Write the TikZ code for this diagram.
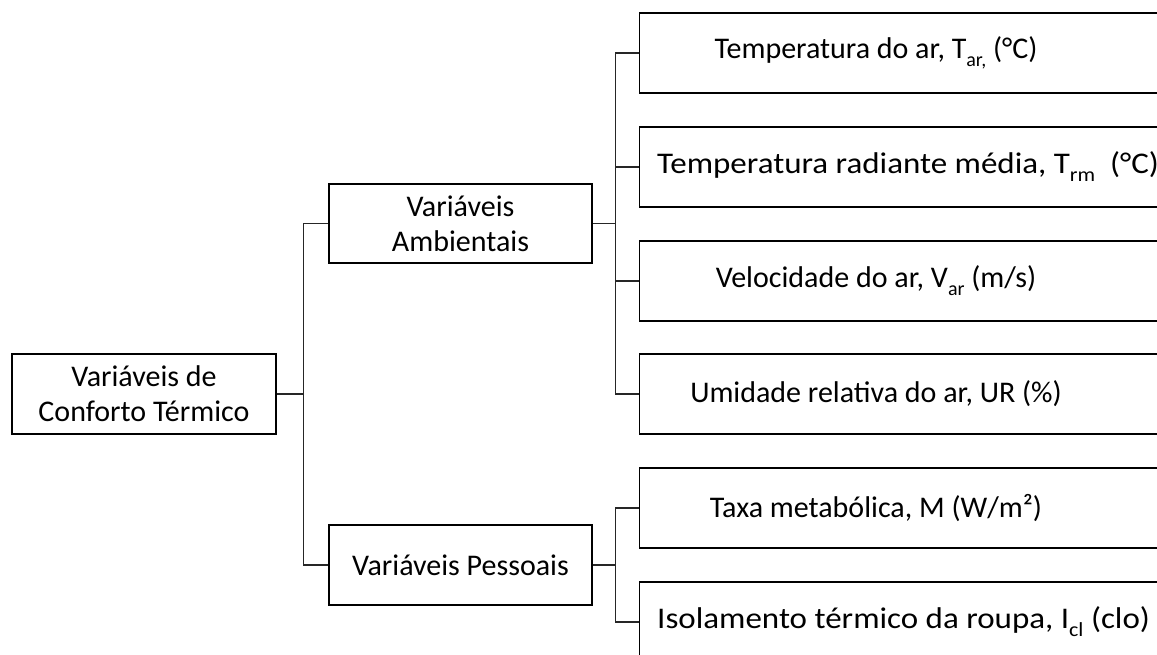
\documentclass[tikz,border=0pt]{standalone}
\usepackage{fontspec}
\setmainfont{Carlito}
\newcommand{\mysub}[1]{\raisebox{-8pt}{\fontsize{20}{20}\selectfont #1}}
\begin{document}
\begin{tikzpicture}[x=1pt,y=-1pt,
  box/.style={draw=black,line width=1.2pt,rectangle,inner sep=0pt},
  txt/.style={inner sep=0pt,font=\fontsize{30}{35}\selectfont,align=center},
  conn/.style={draw=black!85,line width=1.2pt}]
\useasboundingbox (0,0) rectangle (1157,655);
\clip (0,0) rectangle (1157,655);
% root
\node[box,minimum width=264pt,minimum height=80pt] (root) at (144,394) {};
\node[txt] (troot) at (144,394) {Variáveis de\\Conforto Térmico};
% level 2
\node[box,minimum width=263pt,minimum height=79pt] (amb) at (460.5,223.5) {};
\node[txt] (tamb) at (460.5,223.5) {Variáveis\\Ambientais};
\node[box,minimum width=263pt,minimum height=80pt] (pes) at (460.5,565) {};
\node[txt] (tpes) at (460.5,565) {Variáveis Pessoais};
% level 3 boxes
\foreach \n/\y in {b1/53,b2/167,b3/281,b4/394,b5/508,b6/622}{
  \node[box,minimum width=560pt,minimum height=80pt,anchor=west] (\n) at (639,\y) {};
}
\node[txt] (t1) at (876,53) {Temperatura do ar, T\mysub{ar,} (°C)};
\node[txt,anchor=west] (t2) at (657,167) {\scalebox{1.1}[1]{Temperatura radiante média, T\mysub{rm}\ \ (°C)}};
\node[txt] (t3) at (876,281) {Velocidade do ar, V\mysub{ar} (m/s)};
\node[txt] (t4) at (876,394) {Umidade relativa do ar, UR (\%)};
\node[txt] (t5) at (876,508) {Taxa metabólica, M (W/m²)};
\node[txt,anchor=west] (t6) at (657,622) {\scalebox{1.1}[1]{Isolamento térmico da roupa, I\mysub{cl} (clo)}};
% connectors
\coordinate (j1) at ([xshift=27pt]root.east);
\draw[conn] (root.east) -- (j1) |- (amb.west);
\draw[conn] (j1) |- (pes.west);
\coordinate (j2) at ([xshift=23pt]amb.east);
\draw[conn] (amb.east) -- (j2);
\foreach \n in {b1,b2,b3,b4}{\draw[conn] (j2) |- (\n.west);}
\coordinate (j3) at ([xshift=23pt]pes.east);
\draw[conn] (pes.east) -- (j3);
\foreach \n in {b5,b6}{\draw[conn] (j3) |- (\n.west);}
\end{tikzpicture}
\end{document}
